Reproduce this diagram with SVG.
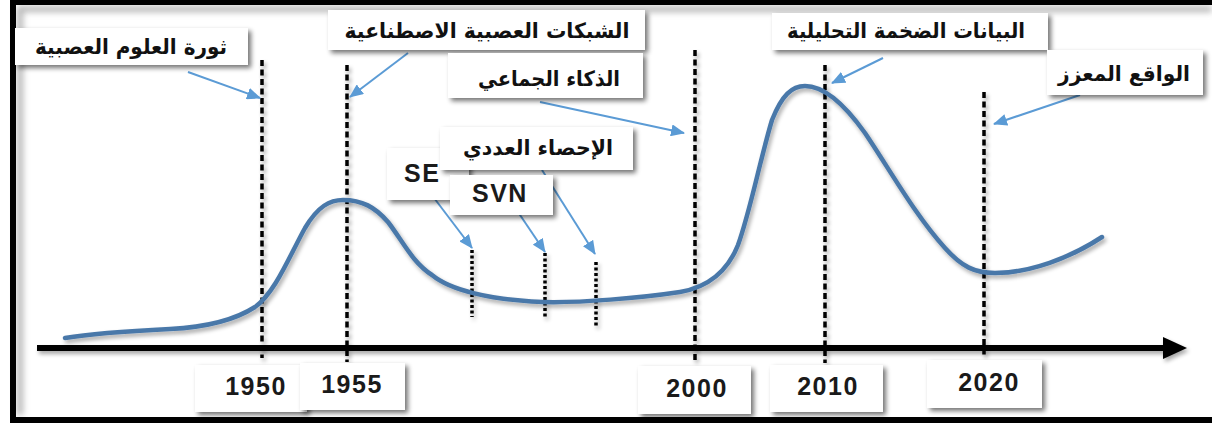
<svg xmlns="http://www.w3.org/2000/svg" width="1212" height="423" viewBox="0 0 1212 423">
  <defs>
    <style>
      .box { fill: #ffffff; filter: url(#shadow); }
      .ar { font-family: "DejaVu Sans", sans-serif; font-weight: bold; font-size: 21px; fill: #111; }
      .lat { font-family: "Liberation Sans", Arial, sans-serif; font-weight: bold; font-size: 25px; fill: #1a1a1a; letter-spacing: 1.5px; }
      .dash { stroke: #000; stroke-width: 3.5; stroke-dasharray: 6 3.5; fill: none; }
      .dot { stroke: #000; stroke-width: 3.5; stroke-dasharray: 3 2.5; fill: none; }
      .call { stroke: #5b9bd5; stroke-width: 2; fill: none; marker-end: url(#head); }
    </style>
    <filter id="shadow" x="-10%" y="-20%" width="130%" height="160%">
      <feGaussianBlur in="SourceAlpha" stdDeviation="2.5"/>
      <feOffset dx="3" dy="3" result="b"/>
      <feComponentTransfer><feFuncA type="linear" slope="0.55"/></feComponentTransfer>
      <feMerge><feMergeNode/><feMergeNode in="SourceGraphic"/></feMerge>
    </filter>
    <filter id="soft" filterUnits="userSpaceOnUse" x="0" y="0" width="1212" height="423">
      <feGaussianBlur in="SourceAlpha" stdDeviation="2"/>
      <feOffset dx="2" dy="3"/>
      <feComponentTransfer><feFuncA type="linear" slope="0.35"/></feComponentTransfer>
      <feMerge><feMergeNode/><feMergeNode in="SourceGraphic"/></feMerge>
    </filter>
    <filter id="blur4" filterUnits="userSpaceOnUse" x="0" y="0" width="1212" height="423"><feGaussianBlur stdDeviation="3"/></filter>
    <marker id="head" markerUnits="userSpaceOnUse" markerWidth="14" markerHeight="12" refX="13" refY="6" orient="auto">
      <path d="M0,0 L14,6 L0,12 Z" fill="#5b9bd5"/>
    </marker>
  </defs>

  <rect x="0" y="0" width="1212" height="423" fill="#ffffff"/>

  <!-- inner shading along the frame -->
  <path d="M20,415 L20,9 L1212,9" fill="none" stroke="#b5b5b5" stroke-width="6" filter="url(#blur4)"/>

  <!-- outer frame -->
  <rect x="13" y="2" width="1206" height="418" fill="none" stroke="#000" stroke-width="6"/>

  <!-- time axis -->
  <g id="axis" filter="url(#soft)">
    <line x1="37" y1="348" x2="1166" y2="348" stroke="#000" stroke-width="6"/>
    <path d="M1163,337 L1187,348 L1163,359 Z" fill="#000"/>
  </g>

  <!-- year markers -->
  <g id="markers" filter="url(#soft)">
    <line class="dash" x1="262" y1="60" x2="262" y2="358"/>
    <line class="dash" x1="347" y1="65" x2="347" y2="362"/>
    <line class="dash" x1="695" y1="50" x2="695" y2="363"/>
    <line class="dash" x1="825" y1="65" x2="825" y2="363"/>
    <line class="dash" x1="984" y1="92" x2="984" y2="358"/>
    <line class="dot" x1="472" y1="250" x2="472" y2="317"/>
    <line class="dot" x1="545" y1="253" x2="545" y2="318"/>
    <line class="dot" x1="596" y1="262" x2="596" y2="327"/>
  </g>

  <!-- hype curve -->
  <g id="curve" filter="url(#soft)">
    <path d="M65,338 C95,333 130,331 170,329 C210,327 238,318 255,307 C275,293 290,255 305,228 C318,206 330,200 343,200 C362,200 375,207 388,222 C402,240 412,262 432,275 C450,290 490,300 543,302 C580,303 640,298 680,292 C710,287 728,270 738,245 C750,212 760,160 772,120 C782,95 792,86 805,86 C825,86 845,105 865,133 C890,170 915,215 945,248 C962,267 975,273 995,273 C1030,273 1070,258 1102,237" fill="none" stroke="#4a78a9" stroke-width="4.5" stroke-linecap="round"/>
  </g>

  <!-- callout connectors -->
  <g id="connectors">
    <line class="call" x1="188" y1="72" x2="260" y2="98"/>
    <line class="call" x1="408" y1="53" x2="350" y2="97"/>
    <line class="call" x1="540" y1="102" x2="684" y2="133"/>
    <line class="call" x1="542" y1="170" x2="595" y2="254"/>
    <line class="call" x1="428" y1="190" x2="472" y2="248"/>
    <line class="call" x1="518" y1="212" x2="545" y2="252"/>
    <line class="call" x1="883" y1="58" x2="832" y2="83"/>
    <line class="call" x1="1080" y1="95" x2="994" y2="124"/>
  </g>

  <!-- callout labels -->
  <g id="neuro">
    <rect class="box" x="15" y="28" width="233" height="37"/>
    <text class="ar" x="131" y="54" text-anchor="middle" direction="rtl" textLength="192" lengthAdjust="spacingAndGlyphs">ثورة العلوم العصبية</text>
  </g>
  <g id="ann">
    <rect class="box" x="328" y="10" width="317" height="40"/>
    <text class="ar" x="487" y="38" text-anchor="middle" direction="rtl" textLength="285" lengthAdjust="spacingAndGlyphs">الشبكات العصبية الاصطناعية</text>
  </g>
  <g id="collective">
    <rect class="box" x="448" y="53" width="195" height="45"/>
    <text class="ar" x="549" y="86" text-anchor="middle" direction="rtl" textLength="142" lengthAdjust="spacingAndGlyphs">الذكاء الجماعي</text>
  </g>
  <g id="se">
    <rect class="box" x="387" y="148" width="82" height="52"/>
    <text class="lat" x="404" y="182">SE</text>
  </g>
  <g id="stats">
    <rect class="box" x="440" y="127" width="193" height="43"/>
    <text class="ar" x="538" y="155" text-anchor="middle" direction="rtl" textLength="150" lengthAdjust="spacingAndGlyphs">الإحصاء العددي</text>
  </g>
  <g id="svn">
    <rect class="box" x="450" y="175" width="103" height="40"/>
    <text class="lat" x="472" y="202">SVN</text>
  </g>
  <g id="bigdata">
    <rect class="box" x="772" y="13" width="276" height="37"/>
    <text class="ar" x="906" y="38" text-anchor="middle" direction="rtl" textLength="238" lengthAdjust="spacingAndGlyphs">البيانات الضخمة التحليلية</text>
  </g>
  <g id="ar-reality">
    <rect class="box" x="1047" y="50" width="156" height="45"/>
    <text class="ar" x="1124" y="81" text-anchor="middle" direction="rtl" textLength="132" lengthAdjust="spacingAndGlyphs">الواقع المعزز</text>
  </g>

  <!-- year labels -->
  <g id="y1950">
    <rect class="box" x="195" y="365" width="112" height="47"/>
    <text class="lat" x="256" y="395" text-anchor="middle">1950</text>
  </g>
  <g id="y1955">
    <rect class="box" x="300" y="363" width="105" height="47"/>
    <text class="lat" x="352" y="393" text-anchor="middle">1955</text>
  </g>
  <g id="y2000">
    <rect class="box" x="638" y="366" width="113" height="48"/>
    <text class="lat" x="697" y="397" text-anchor="middle">2000</text>
  </g>
  <g id="y2010">
    <rect class="box" x="770" y="365" width="113" height="47"/>
    <text class="lat" x="828" y="395" text-anchor="middle">2010</text>
  </g>
  <g id="y2020">
    <rect class="box" x="927" y="360" width="115" height="48"/>
    <text class="lat" x="989" y="391" text-anchor="middle">2020</text>
  </g>
</svg>
